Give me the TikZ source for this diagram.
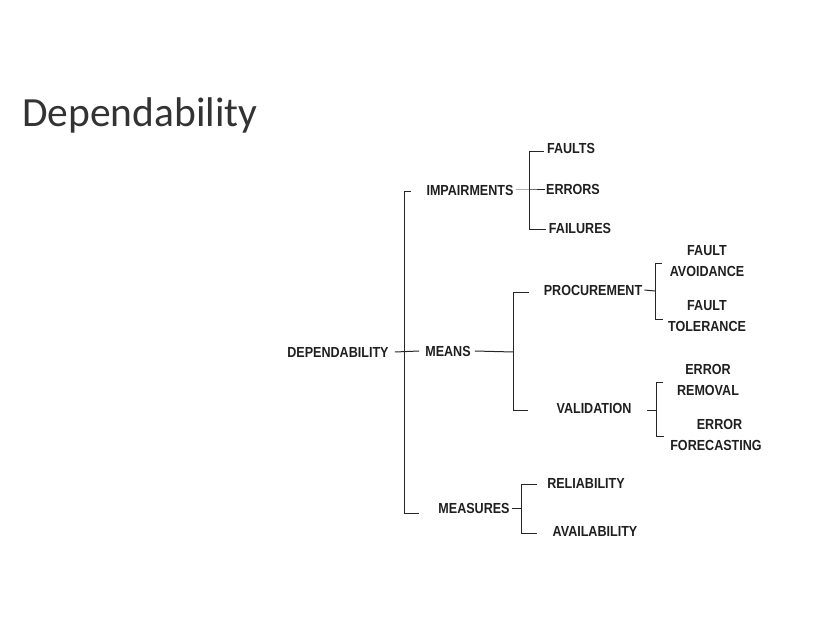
\documentclass[tikz,border=0pt]{standalone}
\usepackage{fontspec}
\setmainfont{Liberation Sans}
\newfontfamily\lblfont[FakeStretch=0.86]{Liberation Sans}
\newfontfamily\titlefont{Carlito}
\begin{document}
\begin{tikzpicture}[x=1pt,y=-1pt,
  lbl/.style={inner sep=0pt,font=\lblfont\bfseries\fontsize{14.6}{21}\selectfont,text=black!88,align=center},
  br/.style={draw=black!85,line width=1pt}]
\useasboundingbox (0,0) rectangle (828,636);
\node[anchor=base west,inner sep=0pt,font=\titlefont\fontsize{41.5}{48}\selectfont,text=black!80] (title) at (22,127) {Dependability};
% level 0/1
\node[lbl] (dep) at (338,352) {DEPENDABILITY};
\node[lbl] (imp) at (470,190) {IMPAIRMENTS};
\node[lbl] (means) at (448,351) {MEANS};
\node[lbl] (meas) at (474,508) {MEASURES};
% level 2
\node[lbl] (faults) at (571,148) {FAULTS};
\node[lbl] (errors) at (573,189) {ERRORS};
\node[lbl] (failures) at (580,228) {FAILURES};
\node[lbl] (proc) at (593,290) {PROCUREMENT};
\node[lbl] (valid) at (594,408) {VALIDATION};
\node[lbl] (rel) at (586,483) {RELIABILITY};
\node[lbl] (avail) at (595,531) {AVAILABILITY};
% level 3
\node[lbl] (fa) at (707,261) {FAULT\\AVOIDANCE};
\node[lbl] (ft) at (707,316) {FAULT\\TOLERANCE};
\node[lbl] (er) at (708,380) {ERROR\\REMOVAL};
\node[lbl] (ef) at (716,435) {\hspace*{7pt}ERROR\\FORECASTING};
% bracket coordinates
\coordinate (d1) at (404,192); \coordinate (d2) at (404,513); \coordinate (dm) at (404,352);
\coordinate (i1) at (529,152); \coordinate (i2) at (529,230); \coordinate (im) at (529,190);
\coordinate (m1) at (513,293); \coordinate (m2) at (513,411); \coordinate (mm) at (513,352);
\coordinate (p1) at (655,264); \coordinate (p2) at (655,320); \coordinate (pm) at (655,291);
\coordinate (v1) at (656,383); \coordinate (v2) at (656,437); \coordinate (vm) at (656,411);
\coordinate (s1) at (521,484); \coordinate (s2) at (521,533); \coordinate (sm) at (521,508);
% main bracket
\draw[br] (d1) ++(7,0) -- (d1) -- (d2) -- ++(15,0);
\draw[br] ([xshift=6pt]dep.east) -- ([xshift=-6pt]means.west);
% impairments
\draw[br] ([xshift=2pt]imp.east) -- (im) -- ([xshift=-1pt]errors.west |- im);
\draw[br] ([xshift=-3pt]faults.west |- i1) -- (i1) -- (i2) -- ([xshift=-3pt]failures.west |- i2);
% means
\draw[br] ([xshift=4pt]means.east) -- (mm);
\draw[br] (m1) ++(16,0) -- (m1) -- (m2) -- ++(15,0);
% procurement
\draw[br] ([xshift=2pt]proc.east) -- (pm);
\draw[br] (p1) ++(7,0) -- (p1) -- (p2) -- ++(8,0);
% validation
\draw[br] ([xshift=-9pt]vm) -- (vm);
\draw[br] (v1) ++(7,0) -- (v1) -- (v2) -- ++(8,0);
% measures
\draw[br] ([xshift=2pt]meas.east) -- (sm);
\draw[br] (s1) ++(16,0) -- (s1) -- (s2) -- ++(16,0);
\end{tikzpicture}
\end{document}
